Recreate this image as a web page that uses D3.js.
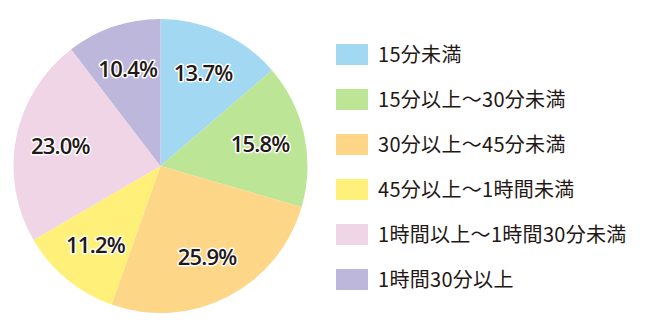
<!DOCTYPE html>
<html><head><meta charset="utf-8">
<script src="https://cdn.jsdelivr.net/npm/d3@7"></script>
<style>body{margin:0;background:#fff}</style>
</head><body>
<svg id="c" width="650" height="330"></svg>
<script>
const categories = ["15分未満","15分以上～30分未満","30分以上～45分未満","45分以上～1時間未満","1時間以上～1時間30分未満","1時間30分以上"];
const values = [13.7, 15.8, 25.9, 11.2, 23.0, 10.4];
const colors = ["#a3d8f2","#bce596","#fed688","#fff07a","#efd5e6","#bdb7db"];

const svg = d3.select("#c");
const cx = 160.5, cy = 166, r = 147;
const pie = d3.pie().sort(null).value(d => d)(values);
const arc = d3.arc().innerRadius(0).outerRadius(r);
const labelArc = d3.arc().innerRadius(102).outerRadius(102);
const g = svg.append("g").attr("transform", `translate(${cx},${cy})`);
g.selectAll("path").data(pie).join("path")
  .attr("d", arc).attr("fill", (d,i) => colors[i]);
g.selectAll("text").data(pie).join("text")
  .attr("transform", d => `translate(${labelArc.centroid(d)})`)
  .attr("text-anchor", "middle").attr("dy", "0.36em")
  .attr("font-family", "'Open Sans', sans-serif").attr("font-weight", 600)
  .attr("font-size", 22).attr("letter-spacing", -0.8)
  .attr("fill", "#231815").attr("stroke", "#fff").attr("stroke-width", 3)
  .attr("paint-order", "stroke").attr("stroke-linejoin", "round")
  .text(d => d.data.toFixed(1) + "%");

const y = d3.scaleBand().domain(categories).range([32, 302]);
const lg = svg.append("g");
const item = lg.selectAll("g").data(categories).join("g")
  .attr("transform", d => `translate(336,${y(d) + y.bandwidth()/2})`);
item.append("rect").attr("x", 0).attr("y", -10.5).attr("width", 32).attr("height", 21)
  .attr("fill", (d,i) => colors[i]);
item.append("text").attr("x", 42).attr("dy", "0.36em")
  .attr("font-family", "'Noto Sans CJK JP', sans-serif").attr("font-size", 20)
  .attr("letter-spacing", 0.3)
  .attr("fill", "#231815").text(d => d);
</script>
</body></html>
